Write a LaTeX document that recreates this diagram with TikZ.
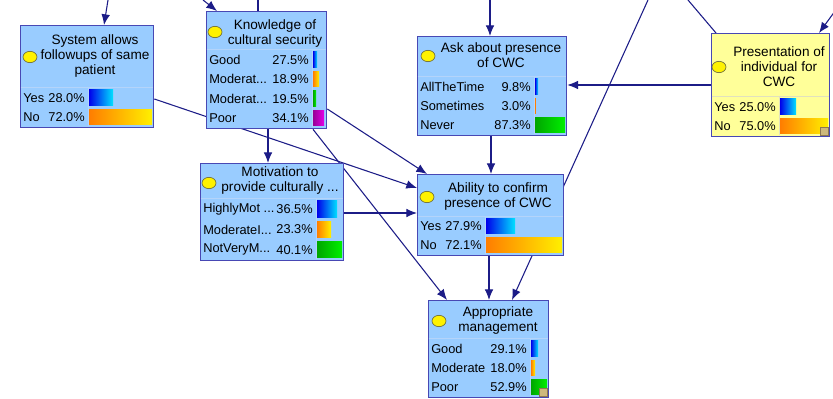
\documentclass[tikz,border=0pt]{standalone}
\usepackage{fontspec}
\setmainfont{Liberation Sans}
\usetikzlibrary{shapes.geometric,arrows.meta,backgrounds}

\definecolor{nodefill}{RGB}{153,204,255}
\definecolor{evidfill}{RGB}{255,255,153}
\definecolor{boxline}{RGB}{72,72,180}
\definecolor{sepblue}{RGB}{180,212,250}
\definecolor{sepyellow}{RGB}{225,225,190}
\definecolor{edgec}{RGB}{28,28,135}
\definecolor{markerline}{RGB}{110,110,60}
\definecolor{gripfill}{RGB}{205,185,125}
\definecolor{gripline}{RGB}{140,120,80}
\definecolor{blueL}{RGB}{0,0,235}
\definecolor{blueR}{RGB}{0,225,255}
\definecolor{orangeL}{RGB}{255,125,0}
\definecolor{orangeR}{RGB}{255,240,0}
\definecolor{greenL}{RGB}{0,165,0}
\definecolor{greenR}{RGB}{0,240,0}
\definecolor{purpleL}{RGB}{150,0,150}
\definecolor{purpleR}{RGB}{230,0,230}

\tikzset{
  box/.style={draw=boxline, line width=1pt, fill=nodefill, inner sep=0pt, anchor=north west},
  evidbox/.style={box, fill=evidfill},
  sep/.style={draw=sepblue, line width=0.75pt},
  sepy/.style={draw=sepyellow, line width=0.75pt},
  edge/.style={draw=edgec, line width=0.8pt},
  arr/.style={edge, -{Latex[length=8pt,width=6.5pt]}},
  hdtext/.style={font=\fontsize{10.2}{11.25}\selectfont, align=center, inner sep=0pt},
  rowtext/.style={font=\fontsize{9.6}{11.25}\selectfont, inner sep=0pt},
  marker/.style={ellipse, draw=markerline, line width=0.5pt, fill=yellow, minimum width=10.5pt, minimum height=8.5pt, inner sep=0pt},
  grip/.style={fill=gripfill, draw=gripline, line width=0.4pt},
  bluebar/.style={left color=blueL, right color=blueR},
  orangebar/.style={left color=orangeL, right color=orangeR},
  greenbar/.style={left color=greenL, right color=greenR},
  purplebar/.style={left color=purpleL, right color=purpleR},
}

% one state row: name prefix, box left, bar column, row top, row bottom,
% state label, percentage, bar end, bar shading
\newcommand\staterow[9]{%
  \node[rowtext, anchor=west] (#1-l) at ({#2+3},{(#4+#5)/2}) {#6};
  \node[rowtext, anchor=east] (#1-p) at ({#3-3},{(#4+#5)/2}) {#7};
  \shade[#9] ({#3+1},{#4+2}) rectangle ({#8},{#5-2});
}

\begin{document}
\begin{tikzpicture}[x=0.75pt,y=-0.75pt]
\useasboundingbox (0,0) rectangle (833,399);

% ---------- nodes ----------
\node[box, minimum width=99.75pt, minimum height=76.5pt]  (sys)  at (20,25)  {};
\node[box, minimum width=90pt,    minimum height=87.75pt] (know) at (206,11) {};
\node[box, minimum width=111.75pt,minimum height=74.25pt] (ask)  at (417,36) {};
\node[evidbox, minimum width=88.5pt, minimum height=77.25pt] (pres) at (711,33) {};
\node[box, minimum width=107.25pt,minimum height=72.75pt] (mot)  at (200,163) {};
\node[box, minimum width=109.5pt, minimum height=60.75pt] (abil) at (417,174) {};
\node[box, minimum width=90pt,    minimum height=72.75pt] (appr) at (428,300) {};

% ---------- connectors (behind the boxes) ----------
\coordinate (in1)  at (108,0);
\coordinate (in2)  at (203,0);
\coordinate (out2) at (258,0);
\coordinate (in3)  at (490,0);
\coordinate (in4)  at (648,0);
\coordinate (out5) at (688,0);
\coordinate (in6)  at (838,7);
\begin{pgfonlayer}{background}
  \fill[white] (0,0) rectangle (833,399);
  \draw[arr]  (in1) -- (sys.north -| 104,0);
  \draw[arr]  (in2) -- (know.north -| 217,0);
  \draw[edge] (know.north -| 258,0) -- (out2);
  \draw[arr]  (in3) -- (ask.north -| 490,0);
  \draw[arr]  (in4) -- (appr.north -| 512,0);
  \draw[edge] (pres.north -| 716,0) -- (out5);
  \draw[arr]  (in6) -- (pres.north -| 819,0);
  \draw[arr]  (pres.west |- 0,85) -- (ask.east |- 0,85);
  \draw[arr]  (ask.south -| 491,0) -- (abil.north -| 491,0);
  \draw[arr]  (sys.east |- 0,99) -- (abil.west |- 0,188);
  \draw[arr]  (know.south -| 268,0) -- (mot.north -| 268,0);
  \draw[arr]  (know.east |- 0,109) -- (abil.north -| 427,0);
  \draw[arr]  (know.south -| 313,0) -- (appr.north -| 447,0);
  \draw[arr]  (mot.east |- 0,213) -- (abil.west |- 0,213);
  \draw[arr]  (abil.south -| 489,0) -- (appr.north -| 489,0);
\end{pgfonlayer}

% ---------- System allows followups ----------
\draw[sep] (20.5,88) -- (152.5,88);
\draw[sep] (88,88) -- (88,126.5);
\node[marker] (sys-m) at (30,57) {};
\node[hdtext] (sys-t) at (95,56) {System allows\\followups of same\\patient};
\staterow{sys-r1}{20}{88}{88}{107.5}{Yes}{28.0\%}{113}{bluebar}
\staterow{sys-r2}{20}{88}{107.5}{127}{No}{72.0\%}{152}{orangebar}

% ---------- Knowledge of cultural security ----------
\draw[sep] (206.5,50) -- (325.5,50);
\draw[sep] (312,50) -- (312,127.5);
\node[marker] (know-m) at (215,32) {};
\node[hdtext] (know-t) at (275,33) {Knowledge of\\cultural security};
\staterow{know-r1}{206}{312}{50}{69.5}{Good}{27.5\%}{317}{bluebar}
\staterow{know-r2}{206}{312}{69.5}{89}{Moderat...}{18.9\%}{319}{orangebar}
\staterow{know-r3}{206}{312}{89}{108.5}{Moderat...}{19.5\%}{316}{greenbar}
\staterow{know-r4}{206}{312}{108.5}{128}{Poor}{34.1\%}{324}{purplebar}

% ---------- Ask about presence of CWC ----------
\draw[sep] (417.5,77) -- (565.5,77);
\draw[sep] (534,77) -- (534,134.5);
\node[marker] (ask-m) at (428,56) {};
\node[hdtext] (ask-t) at (501,55.5) {Ask about presence\\of CWC};
\staterow{ask-r1}{417}{534}{77}{96.3}{AllTheTime}{9.8\%}{538}{bluebar}
\staterow{ask-r2}{417}{534}{96.3}{115.7}{Sometimes}{3.0\%}{535.8}{orangebar}
\staterow{ask-r3}{417}{534}{115.7}{135}{Never}{87.3\%}{565}{greenbar}

% ---------- Presentation of individual for CWC ----------
\draw[sepy] (711.5,97) -- (828.5,97);
\draw[sepy] (779,97) -- (779,135.5);
\node[marker] (pres-m) at (719,67) {};
\node[hdtext] (pres-t) at (779,66.5) {Presentation of\\individual for\\CWC};
\staterow{pres-r1}{711}{779}{97}{116.5}{Yes}{25.0\%}{796}{bluebar}
\staterow{pres-r2}{711}{779}{116.5}{136}{No}{75.0\%}{828}{orangebar}
\filldraw[grip] (820,127) rectangle (828,135);

% ---------- Motivation to provide culturally ... ----------
\draw[sep] (200.5,199) -- (342.5,199);
\draw[sep] (316,199) -- (316,259.5);
\node[marker] (mot-m) at (209,183) {};
\node[hdtext] (mot-t) at (280,180.5) {Motivation to\\provide culturally ...};
\staterow{mot-r1}{200}{316}{199}{219.3}{HighlyMot ...}{36.5\%}{337}{bluebar}
\staterow{mot-r2}{200}{316}{219.3}{239.7}{ModerateI...}{23.3\%}{331}{orangebar}
\staterow{mot-r3}{200}{316}{239.7}{260}{NotVeryM...}{40.1\%}{342}{greenbar}

% ---------- Ability to confirm presence of CWC ----------
\draw[sep] (417.5,217) -- (562.5,217);
\draw[sep] (485,217) -- (485,254.5);
\node[marker] (abil-m) at (427,197) {};
\node[hdtext] (abil-t) at (498,196) {Ability to confirm\\presence of CWC};
\staterow{abil-r1}{417}{485}{217}{236}{Yes}{27.9\%}{515}{bluebar}
\staterow{abil-r2}{417}{485}{236}{255}{No}{72.1\%}{562}{orangebar}

% ---------- Appropriate management ----------
\draw[sep] (428.5,339) -- (547.5,339);
\draw[sep] (530,339) -- (530,396.5);
\node[marker] (appr-m) at (439,321) {};
\node[hdtext] (appr-t) at (498,320) {Appropriate\\management};
\staterow{appr-r1}{428}{530}{339}{358.3}{Good}{29.1\%}{538}{bluebar}
\staterow{appr-r2}{428}{530}{358.3}{377.7}{Moderate}{18.0\%}{535}{orangebar}
\staterow{appr-r3}{428}{530}{377.7}{397}{Poor}{52.9\%}{547}{greenbar}
\filldraw[grip] (539,388) rectangle (547,396);

\end{tikzpicture}
\end{document}
